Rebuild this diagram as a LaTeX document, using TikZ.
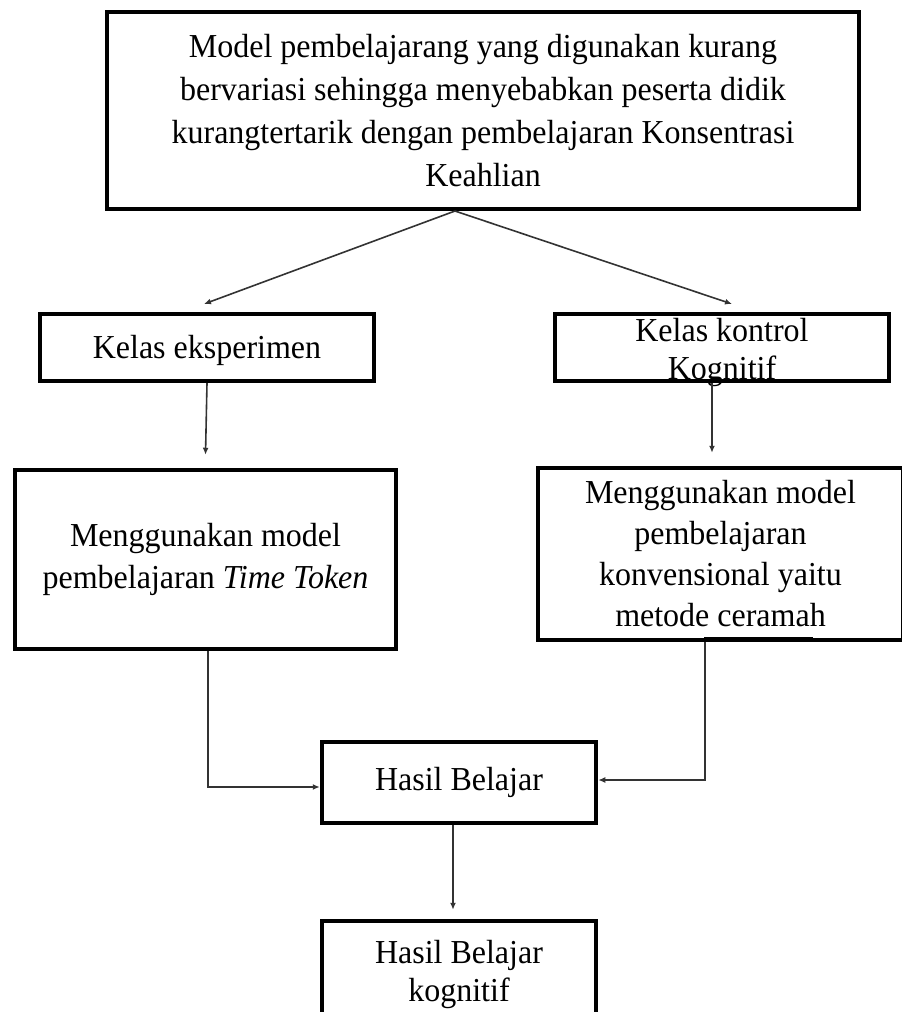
\documentclass[tikz,border=0pt]{standalone}
\usepackage{fontspec}
\setmainfont{Liberation Serif}[FakeStretch=0.955]
\usetikzlibrary{arrows.meta}
\begin{document}
\begin{tikzpicture}[x=1pt,y=1pt,
  boxnode/.style={draw=black, line width=4.5pt, rectangle, inner sep=0pt, align=center,
    font=\fontsize{33.5}{42}\selectfont},
  txtnode/.style={inner sep=0pt, align=center, font=\fontsize{33.5}{38}\selectfont},
  conn/.style={draw=black!80, line width=1.6pt, -{Latex[length=7pt,width=6pt]}}
]
\useasboundingbox (0,0) rectangle (902,-1012);

% boxes
\node[boxnode, minimum width=752pt, minimum height=197pt,
      font=\fontsize{33.5}{43}\selectfont] (top) at (483,-110.5)
  {Model pembelajarang yang digunakan kurang\\
   bervariasi sehingga menyebabkan peserta didik\\
   kurangtertarik dengan pembelajaran Konsentrasi\\
   Keahlian};

\node[boxnode, line width=4pt, minimum width=334pt, minimum height=67pt] (kelasE) at (207,-347.5) {};
\node[txtnode] (kelasEtxt) at (207,-350) {Kelas eksperimen};

\node[boxnode, line width=4pt, minimum width=334pt, minimum height=67pt] (kelasK) at (722,-347.5) {};
\node[txtnode] (kelasKtxt) at (722,-352) {Kelas kontrol\\Kognitif};

\node[boxnode, minimum width=381pt, minimum height=179pt] (menE) at (205.5,-559.5)
  {Menggunakan model\\pembelajaran \textit{Time Token}};

\node[boxnode, minimum width=365pt, minimum height=172pt,
      font=\fontsize{33.5}{41}\selectfont] (menK) at (720.5,-554)
  {Menggunakan model\\pembelajaran\\konvensional yaitu\\metode ceramah};

\node[boxnode, minimum width=274pt, minimum height=81pt] (hasil) at (459,-782.5)
  {Hasil Belajar};

\node[boxnode, minimum width=274pt, minimum height=107pt,
      font=\fontsize{33.5}{38}\selectfont] (kog) at (459,-974.5)
  {Hasil Belajar\\kognitif};

% small thick segment on the bottom edge of the right box
\draw[line width=3pt] ([xshift=-16.5pt,yshift=3.5pt]menK.south) -- ([xshift=92.5pt,yshift=3.5pt]menK.south);

% coordinates
\coordinate (apex) at (455,-211);
\coordinate (tipL) at (204,-304);
\coordinate (tipR) at (732,-304);

% connectors
\draw[conn] (apex) -- (tipL);
\draw[conn] (apex) -- (tipR);
\draw[conn] (kelasE.south) -- ([yshift=13pt]menE.north);
\draw[conn] ([xshift=-10pt]kelasK.south) -- ([xshift=-8.5pt,yshift=13pt]menK.north);
\draw[conn] ([xshift=2.5pt]menE.south) |- (hasil.west |- 0,-787);
\draw[conn] ([xshift=-15.5pt]menK.south) |- (hasil.east |- 0,-780);
\draw[conn] ([xshift=-6pt]hasil.south) -- ([xshift=-6pt,yshift=9pt]kog.north);
\end{tikzpicture}
\end{document}
